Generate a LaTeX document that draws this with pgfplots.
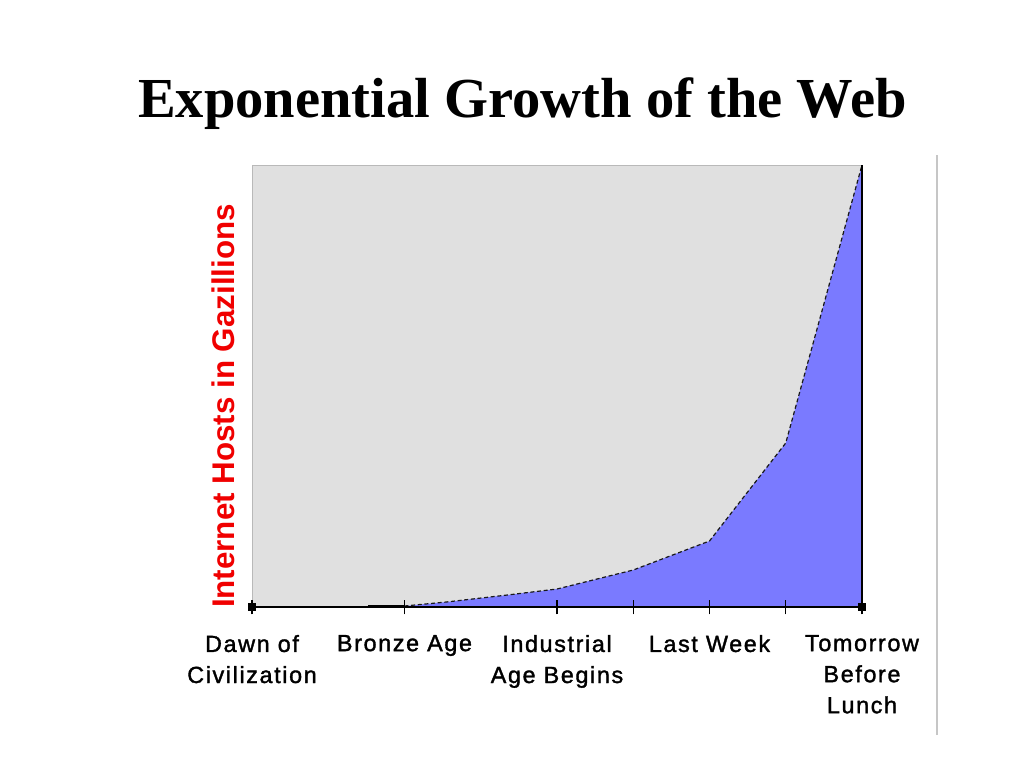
\documentclass[border=0pt]{standalone}
\usepackage{pgfplots}
\pgfplotsset{compat=1.18}
\usepackage{fontspec}
\setmainfont{Liberation Serif}
\newfontfamily\ticksfont[LetterSpace=7,FakeBold=1.5]{Liberation Sans}
\newfontfamily\labelfont{Liberation Sans}
\definecolor{bggray}{RGB}{224,224,224}
\definecolor{webblue}{RGB}{122,122,255}
\definecolor{labelred}{RGB}{240,0,0}

% 1 px of the reference = 0.75pt
\begin{document}
\begin{tikzpicture}[x=0.75pt,y=0.75pt]
  \path (0,0) rectangle (1024,768);
  % title
  \node[anchor=base west, inner sep=0pt, font=\fontsize{42.4}{50}\selectfont\bfseries]
    at (138,650) {Exponential Growth of the Web};
  % right-hand rule
  \draw[gray!45, line width=1.5pt] (937,33) -- (937,613);

  \begin{axis}[
      at={(189pt,120.75pt)}, anchor=origin,
      scale only axis,
      width=457.5pt, height=331.5pt,
      xmin=0, xmax=8, ymin=0, ymax=442,
      axis on top,
      axis x line=bottom, axis y line=none,
      x axis line style={-, black, line width=1pt},
      axis background/.style={fill=bggray, draw=gray!55},
      xtick={0,2,4,6,8},
      xticklabels={{Dawn of\\Civilization},{Bronze Age},{Industrial\\Age Begins},{Last Week},{Tomorrow\\Before\\Lunch}},
      extra x ticks={5,7},
      extra x tick labels={},
      tick align=center,
      tickwidth=11pt,
      every tick/.style={black, line width=1.1pt},
      xticklabel style={align=center, anchor=north, yshift=-12pt,
        font=\ticksfont\fontsize{17.5}{23.3}\selectfont},
      clip=false,
    ]
    \addplot[fill=webblue, draw=none] coordinates {
      (0,0) (1.5,0) (1.52,1) (2,1) (2.55,5) (3.35,12) (4,18)
      (5,37) (6,66) (7,164) (8,442)
    } \closedcycle;
    \addplot[densely dashed, black!90, line width=0.9pt] coordinates {
      (2,1) (2.55,5) (3.35,12) (4,18) (5,37) (6,66) (7,164) (8,442)
    };
    \addplot[black, line width=2pt] coordinates {(1.52,1) (2,1)};
    \addplot[black, line width=0.9pt] coordinates {(8,0) (8,442)};
    \addplot[only marks, mark=square*, mark size=2.5pt, black] coordinates {(0,0) (8,0)};
  \end{axis}
  % y label
  \node[rotate=90, text=labelred, inner sep=0pt,
        font=\labelfont\fontsize{23.5}{28}\selectfont\bfseries] at (223,362) {Internet Hosts in Gazillions};
\end{tikzpicture}
\end{document}
